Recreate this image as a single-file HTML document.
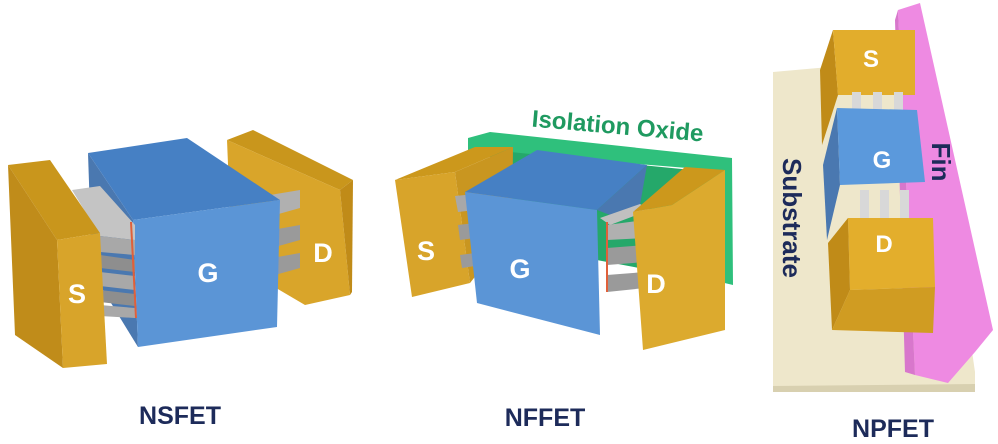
<!DOCTYPE html>
<html><head><style>
html,body{margin:0;padding:0;background:#fff;}
svg{display:block;}
text{font-family:"Liberation Sans",Arial,sans-serif;font-weight:bold;}
</style></head><body>
<svg width="998" height="444" viewBox="0 0 998 444" xmlns="http://www.w3.org/2000/svg">
<!-- ===== NSFET ===== -->
<polygon points="227,140 253,130 353,180 340,190" fill="#c9961c"/>
<polygon points="227,140 340,190 350,295 305,305 232,262" fill="#d9a52a"/>
<polygon points="340,190 353,180 352,292 350,295" fill="#c08b18"/>
<polygon points="270,195 300,190 300,208 275,215" fill="#b0b0b0"/>
<polygon points="272,230 300,225 300,240 275,247" fill="#9a9a9a"/>
<polygon points="272,258 300,253 300,268 275,275" fill="#9a9a9a"/>
<polygon points="88,153 133,220 138,347 92,272" fill="#4a78b0"/>
<polygon points="88,153 187,138 280,200 133,220" fill="#4680c4"/>
<polygon points="133,220 280,200 277,327 138,347" fill="#5b95d6"/>
<polygon points="72,190 100,186 135,225 135,240 100,236" fill="#c4c4c4"/>
<polygon points="100,236 135,240 135,255 100,252" fill="#a8a8a8"/>
<polygon points="100,255 135,260 135,272 100,268" fill="#8e8e8e"/>
<polygon points="100,272 135,276 135,290 100,286" fill="#a8a8a8"/>
<polygon points="100,290 135,294 135,306 100,302" fill="#8e8e8e"/>
<polygon points="100,305 135,308 135,318 100,316" fill="#a8a8a8"/>
<line x1="131" y1="222" x2="136" y2="318" stroke="#e0603a" stroke-width="2"/>
<polygon points="8,165 50,160 100,233 57,240" fill="#c9961c"/>
<polygon points="8,165 57,240 63,368 15,335" fill="#c08c1a"/>
<polygon points="57,240 100,233 107,364 63,368" fill="#d8a42a"/>
<text x="77" y="303" font-size="27" fill="#fff" text-anchor="middle">S</text>
<text x="208" y="282" font-size="27" fill="#fff" text-anchor="middle">G</text>
<text x="323" y="262" font-size="27" fill="#fff" text-anchor="middle">D</text>
<text x="180" y="424" font-size="25" fill="#1d2b5a" text-anchor="middle">NSFET</text>

<!-- ===== NFFET ===== -->
<polygon points="468,138 490,132 732,158 733,285 712,280 712,170 468,150" fill="#2fc07c"/>
<polygon points="490,150 712,172 712,280 650,270 490,240" fill="#25a86a"/>
<text x="617" y="134" font-size="24" fill="#1f9a60" text-anchor="middle" transform="rotate(5 617 134)">Isolation Oxide</text>
<polygon points="395,180 475,147 513,147 455,172" fill="#cc981c"/>
<polygon points="395,180 455,172 470,283 412,297" fill="#d8a42a"/>
<polygon points="455,172 513,147 512,230 470,283" fill="#c99620"/>
<polygon points="455,196 475,194 475,210 458,212" fill="#a8a8a8"/>
<polygon points="458,225 475,223 475,238 460,240" fill="#9a9a9a"/>
<polygon points="460,255 475,253 475,266 462,268" fill="#9a9a9a"/>
<polygon points="465,192 537,150 647,165 597,210" fill="#4680c4"/>
<polygon points="465,192 597,210 600,335 477,303" fill="#5b95d6"/>
<polygon points="597,210 647,165 640,205 610,215" fill="#4a78b0"/>
<polygon points="600,218 640,204 650,210 610,225" fill="#c0c0c0"/>
<polygon points="607,225 645,220 645,238 607,240" fill="#b0b0b0"/>
<polygon points="607,248 645,245 645,262 607,265" fill="#9a9a9a"/>
<polygon points="607,275 645,272 645,288 607,292" fill="#9a9a9a"/>
<line x1="607" y1="222" x2="607" y2="292" stroke="#e0603a" stroke-width="2"/>
<polygon points="633,212 685,167 725,170 672,205" fill="#cc981c"/>
<polygon points="633,212 672,205 725,170 725,330 643,350" fill="#dcaa2e"/>
<text x="426" y="260" font-size="27" fill="#fff" text-anchor="middle">S</text>
<text x="520" y="278" font-size="27" fill="#fff" text-anchor="middle">G</text>
<text x="656" y="293" font-size="27" fill="#fff" text-anchor="middle">D</text>
<text x="545" y="426" font-size="25" fill="#1d2b5a" text-anchor="middle">NFFET</text>

<!-- ===== NPFET ===== -->
<polygon points="773,72 818,68 930,60 975,372 975,390 773,392" fill="#eee7cb"/>
<polygon points="773,386 975,384 975,392 773,392" fill="#d8d0b0"/>
<!-- fin -->
<polygon points="898,10 920,3 993,330 975,352 948,383 915,375" fill="#ee8ae2"/>
<polygon points="898,10 915,375 905,372 895,20" fill="#d877cc"/>
<text x="0" y="0" font-size="26" fill="#1d2b5a" text-anchor="middle" transform="translate(932,162) rotate(90)">Fin</text>
<text x="0" y="0" font-size="26" fill="#1d2b5a" text-anchor="middle" transform="translate(783,218) rotate(90)">Substrate</text>
<polygon points="833,30 820,70 822,145 838,95" fill="#c08b18"/>
<polygon points="833,30 915,30 915,95 838,95" fill="#e2ad2c"/>
<rect x="852" y="92" width="9" height="20" fill="#d8d8d8"/>
<rect x="873" y="92" width="9" height="20" fill="#d8d8d8"/>
<rect x="894" y="92" width="9" height="20" fill="#d8d8d8"/>
<polygon points="837,108 823,165 827,240 840,185" fill="#4a78b0"/>
<polygon points="837,108 917,110 925,182 840,185" fill="#5b99dc"/>
<rect x="860" y="190" width="9" height="28" fill="#d8d8d8"/>
<rect x="880" y="190" width="9" height="28" fill="#d8d8d8"/>
<rect x="900" y="190" width="9" height="28" fill="#d8d8d8"/>
<polygon points="848,218 933,218 935,287 850,290" fill="#e3ae2c"/>
<polygon points="848,218 828,243 832,330 850,290" fill="#c08b18"/>
<polygon points="850,290 935,287 933,333 832,330" fill="#d09c22"/>
<text x="871" y="67" font-size="24" fill="#fff" text-anchor="middle">S</text>
<text x="882" y="168" font-size="24" fill="#fff" text-anchor="middle">G</text>
<text x="884" y="252" font-size="24" fill="#fff" text-anchor="middle">D</text>
<text x="893" y="437" font-size="25" fill="#1d2b5a" text-anchor="middle">NPFET</text>
</svg>
</body></html>
